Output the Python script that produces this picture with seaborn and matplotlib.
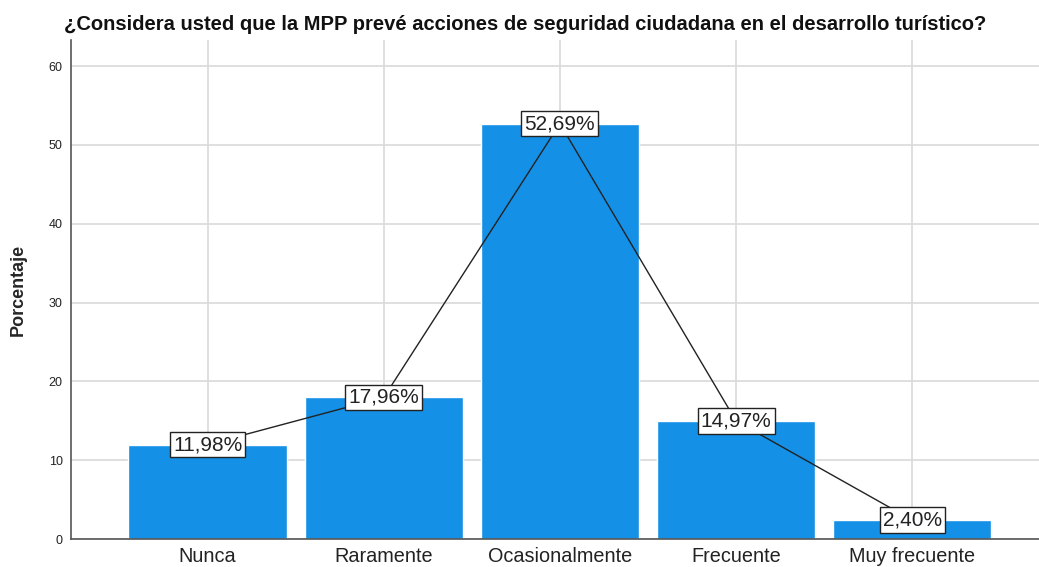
import pandas as pd
import matplotlib
matplotlib.use('Agg')
import matplotlib.pyplot as plt
import seaborn as sns

# datos del gráfico
categorias = ['Nunca', 'Raramente', 'Ocasionalmente', 'Frecuente', 'Muy frecuente']
porcentajes = [11.98, 17.96, 52.69, 14.97, 2.40]
titulo = '¿Considera usted que la MPP prevé acciones de seguridad ciudadana en el desarrollo turístico?'

df = pd.DataFrame({'Categoria': categorias, 'Porcentaje': porcentajes})

sns.set_style('white')
plt.rcParams['font.family'] = ['Liberation Sans', 'DejaVu Sans']

fig = plt.figure(figsize=(10.39, 5.67), dpi=100)
ax = fig.add_axes([71 / 1039, (567 - 539) / 567, 1 - 71 / 1039, (539 - 40) / 567])

sns.barplot(data=df, x='Categoria', y='Porcentaje', color='#1490e6', saturation=1,
            width=0.9, ax=ax, zorder=2)

ax.set_xlim(-0.776, 4.72)
ax.set_ylim(0, 63.3)
ax.set_yticks([0, 10, 20, 30, 40, 50, 60])
ax.grid(True, color='#d9d9d9', linewidth=1.2, zorder=0)
ax.set_axisbelow(True)

for s in ['top', 'right']:
    ax.spines[s].set_visible(False)
for s in ['left', 'bottom']:
    ax.spines[s].set_color('#555555')
    ax.spines[s].set_linewidth(1.2)

# línea que une las etiquetas
ax.plot(range(len(categorias)), porcentajes, color='#222222', linewidth=1, zorder=3)

for i, v in enumerate(porcentajes):
    ax.text(i, v, f'{v:.2f}%'.replace('.', ','), ha='center', va='center', fontsize=15,
            color='#222222', zorder=4,
            bbox=dict(boxstyle='square,pad=0.15', facecolor='white', edgecolor='#222222', linewidth=1))

ax.tick_params(axis='x', labelsize=14.3, colors='#222222', length=0, pad=6)
ax.tick_params(axis='y', labelsize=9, colors='#222222', length=0, pad=6)
ax.set_xlabel('')
ax.set_ylabel('Porcentaje', fontsize=13, fontweight='bold', labelpad=16)

fig.text(64 / 1039, 1 - 25 / 567, titulo, fontsize=14.5, fontweight='bold',
         ha='left', va='center', color='#111111')

plt.savefig('out.png', dpi=100)
plt.close()
